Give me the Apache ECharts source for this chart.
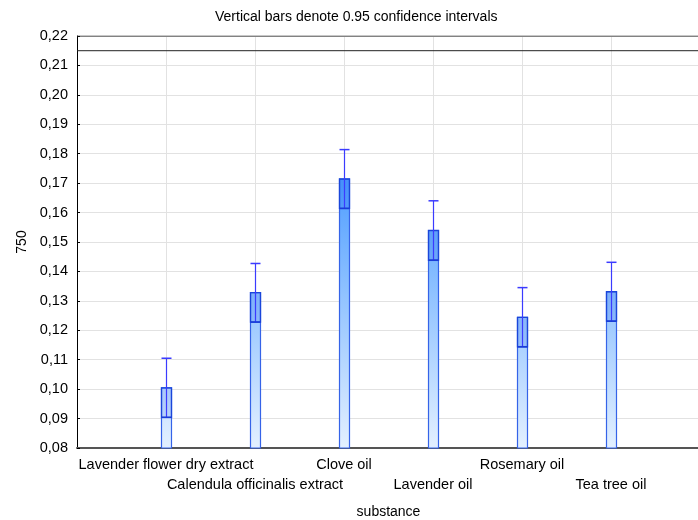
<!DOCTYPE html>
<html>
<head>
<meta charset="utf-8">
<script src="https://cdn.jsdelivr.net/npm/echarts@6/dist/echarts.min.js"></script>
<style>
html,body{margin:0;padding:0;background:#fff;}
#chart{width:698px;height:520px;}
</style>
</head>
<body>
<div id="chart"></div>
<script>
var categories = ['Lavender flower dry extract', 'Calendula officinalis extract', 'Clove oil', 'Lavender oil', 'Rosemary oil', 'Tea tree oil'];
var means = [0.1004, 0.1328, 0.1714, 0.1539, 0.1244, 0.1331];
var lowerCI = [0.0904, 0.1228, 0.1614, 0.1438, 0.1144, 0.1231];
var upperCI = [0.1105, 0.1427, 0.1814, 0.1640, 0.1345, 0.1431];
var refLine = 0.215;
var yTicks = [0.08, 0.22, 0.01];
var xRange = [0, 7];

var FONT = 'Arial, "Liberation Sans", sans-serif';
var chart = echarts.init(document.getElementById('chart'), null, {renderer: 'canvas'});

var data = categories.map(function (c, i) {
  return [i + 1, means[i], lowerCI[i], upperCI[i]];
});

function renderItem(params, api) {
  var x = api.value(0);
  var mean = api.value(1), lo = api.value(2), hi = api.value(3);
  var pBase = api.coord([x, yTicks[0]]);
  var pMean = api.coord([x, mean]);
  var pLo = api.coord([x, lo]);
  var pHi = api.coord([x, hi]);
  var yTop = api.coord([x, yTicks[1]])[1];
  var w = 10;
  var cx = Math.round(pBase[0]) + 0.5;
  var grad = {
    type: 'linear', global: true, x: 0, y: yTop, x2: 0, y2: pBase[1],
    colorStops: [
      {offset: 0, color: '#2f84ff'},
      {offset: 0.36, color: '#529fff'},
      {offset: 0.64, color: '#93c4ff'},
      {offset: 1, color: '#e3f0ff'}
    ]
  };
  return {
    type: 'group',
    children: [
      {type: 'rect', shape: {x: cx - w / 2, y: pMean[1], width: w, height: pBase[1] - pMean[1]},
       style: {fill: grad, stroke: '#3563e8', lineWidth: 1.2}},
      {type: 'rect', shape: {x: cx - w / 2, y: pMean[1], width: w, height: pLo[1] - pMean[1]},
       style: {fill: 'rgba(0,60,210,0.12)', stroke: '#1a46da', lineWidth: 1.3}},
      {type: 'line', shape: {x1: cx, y1: pHi[1], x2: cx, y2: pLo[1]},
       style: {stroke: '#3b3bff', lineWidth: 1.2}},
      {type: 'line', shape: {x1: cx - 5, y1: pHi[1], x2: cx + 5, y2: pHi[1]},
       style: {stroke: '#3b3bff', lineWidth: 1.5}},
      {type: 'line', shape: {x1: cx - 5, y1: pLo[1], x2: cx + 5, y2: pLo[1]},
       style: {stroke: '#1a3cd8', lineWidth: 1.6}}
    ]
  };
}

var option = {
  animation: false,
  backgroundColor: '#ffffff',
  title: {
    text: 'Vertical bars denote 0.95 confidence intervals',
    left: 210, top: 5,
    textStyle: {fontFamily: FONT, fontSize: 14, fontWeight: 'normal', color: '#000'}
  },
  grid: {left: 77, right: -2, top: 36, bottom: 72, containLabel: false, outerBoundsMode: 'none'},
  xAxis: {
    type: 'value', min: xRange[0], max: xRange[1], interval: 1,
    name: 'substance', nameLocation: 'middle', nameGap: 57,
    nameTextStyle: {fontFamily: FONT, fontSize: 14, color: '#000'},
    axisLine: {show: true, lineStyle: {color: '#555', width: 2}},
    axisTick: {show: true, inside: true, length: 3, lineStyle: {color: '#000'}},
    splitLine: {show: true, lineStyle: {color: '#e2e2e2', width: 1}},
    axisLabel: {
      fontFamily: FONT, fontSize: 14.5, color: '#000', margin: 7, lineHeight: 20,
      showMinLabel: false, showMaxLabel: false,
      formatter: function (v) {
        var i = Math.round(v) - 1;
        if (i < 0 || i >= categories.length) return '';
        return (i % 2 === 1 ? '\n' : '') + categories[i];
      }
    }
  },
  yAxis: {
    type: 'value', min: yTicks[0], max: yTicks[1], interval: yTicks[2],
    name: '750', nameLocation: 'middle', nameGap: 48, nameRotate: 90,
    nameTextStyle: {fontFamily: FONT, fontSize: 14, color: '#000'},
    axisLine: {show: true, lineStyle: {color: '#000', width: 1}},
    axisTick: {show: true, inside: true, length: 3, lineStyle: {color: '#000'}},
    splitLine: {show: true, lineStyle: {color: '#e2e2e2', width: 1}},
    axisLabel: {
      fontFamily: FONT, fontSize: 14.5, color: '#000', margin: 9,
      formatter: function (v) { return v.toFixed(2).replace('.', ','); }
    }
  },
  series: [
    {
      type: 'custom', renderItem: renderItem, data: data, silent: true,
      encode: {x: 0, y: [1, 2, 3]}, clip: false, z: 3
    },
    {
      type: 'line', silent: true, symbol: 'none', z: 4,
      lineStyle: {color: '#222', width: 1},
      data: [[xRange[0], refLine], [xRange[1], refLine]]
    },
    {
      type: 'line', silent: true, symbol: 'none', z: 4,
      lineStyle: {color: '#222', width: 1},
      data: [[xRange[0], yTicks[1]], [xRange[1], yTicks[1]]]
    }
  ]
};
chart.setOption(option);
</script>
</body>
</html>
